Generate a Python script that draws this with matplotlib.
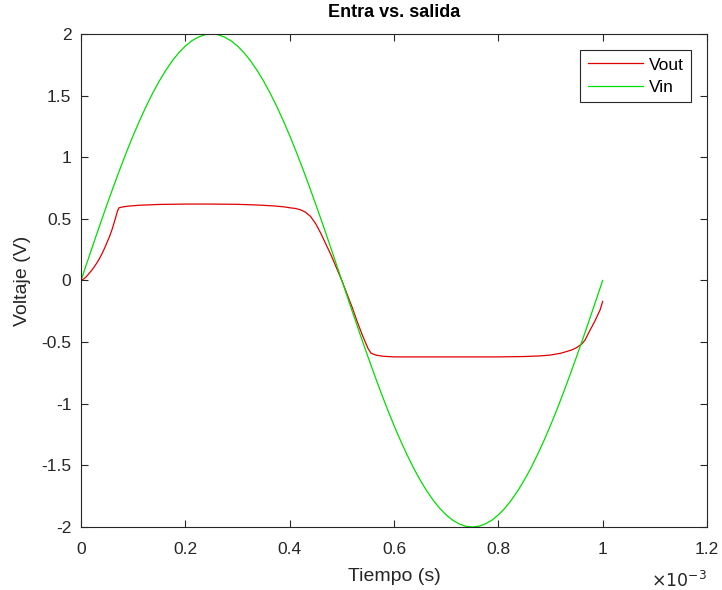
"""
Entrada vs. salida del recortador (Vin / Vout)
"""

import numpy as np
import matplotlib.pyplot as plt

# tiempo en ms (el eje muestra x10^-3 s)
t_in = [0.0, 0.0125, 0.025, 0.0375, 0.05, 0.0625, 0.075, 0.0875, 0.1, 0.1125,
        0.125, 0.1375, 0.15, 0.1625, 0.175, 0.1875, 0.2, 0.2125, 0.225, 0.2375,
        0.25, 0.2625, 0.275, 0.2875, 0.3, 0.3125, 0.325, 0.3375, 0.35, 0.3625,
        0.375, 0.3875, 0.4, 0.4125, 0.425, 0.4375, 0.45, 0.4625, 0.475, 0.4875,
        0.5, 0.5125, 0.525, 0.5375, 0.55, 0.5625, 0.575, 0.5875, 0.6, 0.6125,
        0.625, 0.6375, 0.65, 0.6625, 0.675, 0.6875, 0.7, 0.7125, 0.725, 0.7375,
        0.75, 0.7625, 0.775, 0.7875, 0.8, 0.8125, 0.825, 0.8375, 0.85, 0.8625,
        0.875, 0.8875, 0.9, 0.9125, 0.925, 0.9375, 0.95, 0.9625, 0.975, 0.9875,
        1.0]
vin = [0.0, 0.157, 0.313, 0.467, 0.618, 0.765, 0.908, 1.045, 1.176, 1.299,
       1.414, 1.521, 1.618, 1.705, 1.782, 1.848, 1.902, 1.945, 1.975, 1.994,
       2.0, 1.994, 1.975, 1.945, 1.902, 1.848, 1.782, 1.705, 1.618, 1.521,
       1.414, 1.299, 1.176, 1.045, 0.908, 0.765, 0.618, 0.467, 0.313, 0.157,
       0.0, -0.157, -0.313, -0.467, -0.618, -0.765, -0.908, -1.045, -1.176, -1.299,
       -1.414, -1.521, -1.618, -1.705, -1.782, -1.848, -1.902, -1.945, -1.975, -1.994,
       -2.0, -1.994, -1.975, -1.945, -1.902, -1.848, -1.782, -1.705, -1.618, -1.521,
       -1.414, -1.299, -1.176, -1.045, -0.908, -0.765, -0.618, -0.467, -0.313, -0.157,
       0.0]

t_out = [0.0, 0.005, 0.01, 0.015, 0.02, 0.025, 0.03, 0.035, 0.04, 0.045,
         0.05, 0.055, 0.06, 0.065, 0.07, 0.073, 0.08, 0.09, 0.11, 0.15,
         0.2, 0.25, 0.3, 0.34, 0.37, 0.39, 0.40, 0.41, 0.42, 0.43,
         0.44, 0.45, 0.46, 0.47, 0.48, 0.49, 0.50, 0.51, 0.52, 0.53,
         0.54, 0.55, 0.556, 0.565, 0.58, 0.6, 0.7, 0.8, 0.85, 0.88,
         0.9, 0.92, 0.94, 0.95, 0.96, 0.966, 0.975, 0.985, 0.995, 1.0]
vout = [0.0, 0.012, 0.03, 0.055, 0.08, 0.108, 0.14, 0.175, 0.215, 0.26,
        0.31, 0.36, 0.42, 0.49, 0.565, 0.59, 0.597, 0.603, 0.61, 0.617,
        0.62, 0.62, 0.618, 0.612, 0.605, 0.597, 0.59, 0.585, 0.575, 0.555,
        0.52, 0.46, 0.38, 0.29, 0.20, 0.10, 0.0, -0.11, -0.22, -0.34,
        -0.45, -0.55, -0.59, -0.605, -0.615, -0.62, -0.62, -0.62, -0.617, -0.612,
        -0.605, -0.59, -0.565, -0.545, -0.515, -0.485, -0.41, -0.33, -0.24, -0.17]

xticks = [0, 0.2, 0.4, 0.6, 0.8, 1.0, 1.2]
xtick_labels = ["0", "0.2", "0.4", "0.6", "0.8", "1", "1.2"]
yticks = [-2, -1.5, -1, -0.5, 0, 0.5, 1, 1.5, 2]
ytick_labels = ["-2", "-1.5", "-1", "-0.5", "0", "0.5", "1", "1.5", "2"]

plt.rcParams['font.family'] = ['Liberation Sans', 'DejaVu Sans']
plt.rcParams['axes.unicode_minus'] = False

axis_col = '#262626'

fig = plt.figure(figsize=(7.22, 5.90), dpi=100)
ax = fig.add_axes([0.1122, 0.1068, 0.8670, 0.8356])

ax.plot(t_out, vout, color='#e00000', lw=0.9, label='Vout')
ax.plot(t_in, vin, color='#00dd00', lw=0.9, label='Vin')

ax.set_xlim(0, 1.2)
ax.set_ylim(-2, 2)
ax.set_xticks(xticks)
ax.set_xticklabels(xtick_labels)
ax.set_yticks(yticks)
ax.set_yticklabels(ytick_labels)
ax.tick_params(direction='in', top=True, right=True, length=5, width=0.8,
               labelsize=12.5, colors=axis_col)
ax.tick_params(axis='x', pad=11)
ax.tick_params(axis='y', pad=7)
for s in ax.spines.values():
    s.set_color(axis_col)
    s.set_linewidth(0.8)

ax.set_xlabel("Tiempo (s)", fontsize=14, color=axis_col, labelpad=8)
ax.set_ylabel("Voltaje (V)", fontsize=14, color=axis_col, labelpad=7)
ax.set_title("Entra vs. salida", fontsize=13, fontweight='bold', pad=12)
ax.text(1.0, -0.108, r"$\times10^{\mathrm{-3}}$", transform=ax.transAxes,
        ha='right', va='center', fontsize=12.5, color=axis_col)

leg = ax.legend(loc='upper right', fontsize=12.5, fancybox=False, framealpha=1,
                edgecolor=axis_col, handlelength=3.2, borderaxespad=0.9,
                handletextpad=0.3, borderpad=0.45, labelspacing=0.4)
leg.get_frame().set_linewidth(0.8)

fig.savefig("out.png", dpi=100)
